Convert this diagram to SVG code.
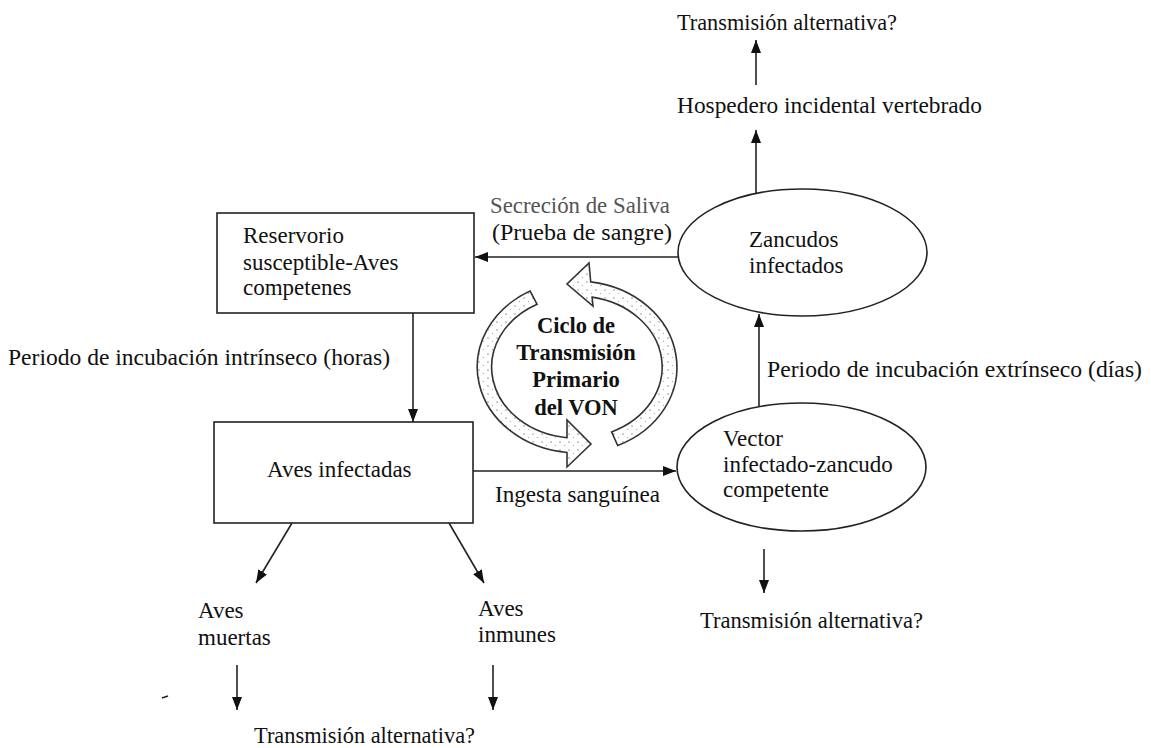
<svg xmlns="http://www.w3.org/2000/svg" width="1151" height="748" viewBox="0 0 1151 748">
<style>
  text { font-family: "Liberation Serif", "Times New Roman", serif; font-size: 23px; fill: #111; }
  .grey { fill: #555; }
  .bold { font-weight: bold; font-size: 22.5px; text-anchor: middle; }
  .box { fill: #fff; stroke: #222; stroke-width: 1.6; }
  .conn { stroke: #222; stroke-width: 1.6; fill: none; }
  .arrow { stroke: #222; stroke-width: 1.6; fill: none; marker-end: url(#ah); }
  .cyc { fill: url(#stip); stroke: #333; stroke-width: 1.6; stroke-linejoin: miter; }
</style>
<defs>
  <marker id="ah" markerUnits="userSpaceOnUse" markerWidth="14" markerHeight="12" refX="13" refY="5" orient="auto">
    <path d="M0,0 L13,5 L0,10 Z" fill="#111"/>
  </marker>
  <pattern id="stip" patternUnits="userSpaceOnUse" width="9" height="8">
    <rect width="9" height="8" fill="#fff"/>
    <circle cx="2" cy="2" r="0.7" fill="#777"/>
    <circle cx="6.5" cy="5.5" r="0.6" fill="#999"/>
  </pattern>
</defs>
<rect width="1151" height="748" fill="#fff"/>

<g id="connectors">
  <line class="arrow" x1="756" y1="85" x2="756" y2="40"/>
  <line class="arrow" x1="756" y1="193" x2="756" y2="130"/>
  <line class="arrow" x1="678" y1="257" x2="475" y2="257"/>
  <line class="arrow" x1="413" y1="313" x2="413" y2="422"/>
  <line class="arrow" x1="759" y1="407" x2="759" y2="314"/>
  <line class="arrow" x1="473" y1="471" x2="676" y2="471"/>
  <line class="arrow" x1="292" y1="523" x2="256" y2="583"/>
  <line class="arrow" x1="449" y1="523" x2="484" y2="583"/>
  <line class="arrow" x1="237" y1="665" x2="237" y2="710"/>
  <line class="arrow" x1="493" y1="665" x2="493" y2="710"/>
  <line class="arrow" x1="764" y1="549" x2="764" y2="593"/>
  <line class="conn" x1="162" y1="698" x2="168" y2="696"/>
</g>

<g id="cycle">
  <path class="cyc" d="M530.1,291.1 A100,86 0 0 0 567,452.5 L567,467 L591,444 L567,420 L567,437.7 A85,71 0 0 1 537.1,304.3 Z"/>
  <path class="cyc" d="M617.7,445.6 A100,86 0 0 0 590.7,281.9 L589,263 L567,284 L593,306 L592.1,297.1 A85,71 0 0 1 611.6,431.9 Z"/>
  <text class="bold" x="576" y="333">Ciclo de</text>
  <text class="bold" x="576" y="360">Transmisión</text>
  <text class="bold" x="576" y="387">Primario</text>
  <text class="bold" x="576" y="415">del VON</text>
</g>

<g id="reservorio">
  <rect class="box" x="217" y="213" width="257" height="100"/>
  <text x="243" y="243">Reservorio</text>
  <text x="243" y="270">susceptible-Aves</text>
  <text x="243" y="295">competenes</text>
</g>

<g id="aves-infectadas">
  <rect class="box" x="214" y="422" width="259" height="101"/>
  <text x="267" y="477">Aves infectadas</text>
</g>

<g id="zancudos">
  <ellipse class="box" cx="802.5" cy="252.5" rx="124.5" ry="63.5"/>
  <text x="749" y="247">Zancudos</text>
  <text x="749" y="273">infectados</text>
</g>

<g id="vector">
  <ellipse class="box" cx="801.5" cy="467" rx="124.5" ry="64"/>
  <text x="723" y="446">Vector</text>
  <text x="723" y="472">infectado-zancudo</text>
  <text x="723" y="497">competente</text>
</g>

<g id="hospedero">
  <text x="677" y="113" textLength="305" lengthAdjust="spacingAndGlyphs">Hospedero incidental vertebrado</text>
</g>
<g id="transmision-top">
  <text x="677" y="30" textLength="220" lengthAdjust="spacingAndGlyphs">Transmisión alternativa?</text>
</g>
<g id="transmision-right">
  <text x="700" y="628" textLength="223" lengthAdjust="spacingAndGlyphs">Transmisión alternativa?</text>
</g>
<g id="transmision-bottom">
  <text x="254" y="743" textLength="221" lengthAdjust="spacingAndGlyphs">Transmisión alternativa?</text>
</g>
<g id="aves-muertas">
  <text x="198" y="618">Aves</text>
  <text x="198" y="645">muertas</text>
</g>
<g id="aves-inmunes">
  <text x="478" y="616">Aves</text>
  <text x="478" y="642">inmunes</text>
</g>

<g id="labels">
  <text class="grey" x="490" y="213" textLength="180" lengthAdjust="spacingAndGlyphs">Secreción de Saliva</text>
  <text x="492" y="240" textLength="180" lengthAdjust="spacingAndGlyphs">(Prueba de sangre)</text>
  <text x="8" y="365" textLength="382" lengthAdjust="spacingAndGlyphs">Periodo de incubación intrínseco (horas)</text>
  <text x="767" y="377" textLength="375" lengthAdjust="spacingAndGlyphs">Periodo de incubación extrínseco (días)</text>
  <text x="495" y="502" textLength="165" lengthAdjust="spacingAndGlyphs">Ingesta sanguínea</text>
</g>
</svg>
